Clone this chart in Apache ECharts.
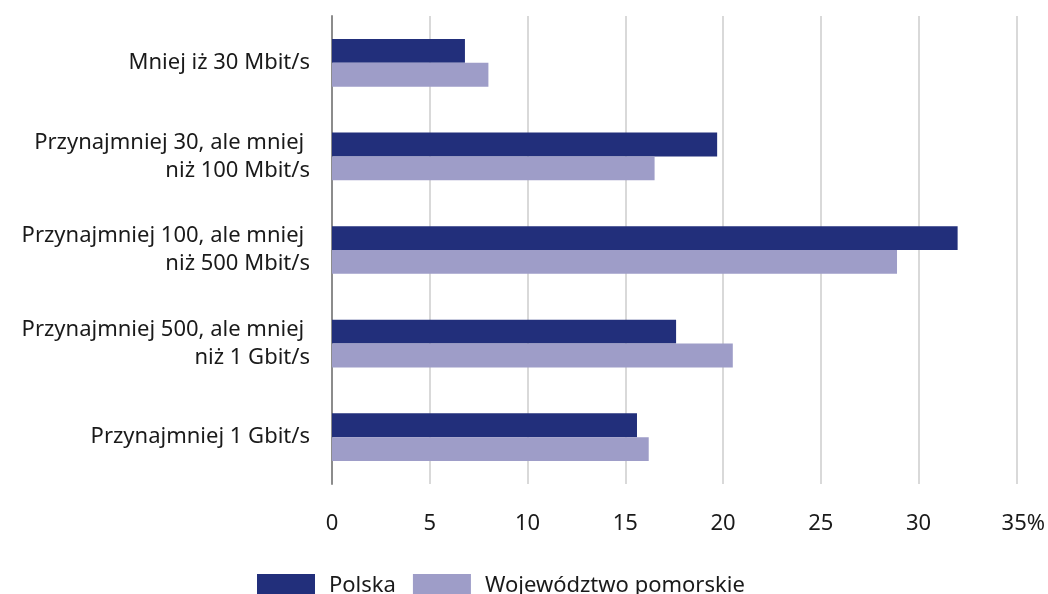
<!DOCTYPE html>
<html><head><meta charset="utf-8">
<script src="https://cdn.jsdelivr.net/npm/echarts@6/dist/echarts.min.js"></script>
<style>html,body{margin:0;padding:0;background:#fff}#c{width:1048px;height:594px}</style>
</head><body><div id="c"></div>
<script>
var categories = ["Mniej iż 30 Mbit/s", "Przynajmniej 30, ale mniej \nniż 100 Mbit/s", "Przynajmniej 100, ale mniej \nniż 500 Mbit/s", "Przynajmniej 500, ale mniej \nniż 1 Gbit/s", "Przynajmniej 1 Gbit/s"];
var polska = [6.8, 19.7, 32.0, 17.6, 15.6];
var pomorskie = [8.0, 16.5, 28.9, 20.5, 16.2];
var seriesNames = ["Polska", "Województwo pomorskie"];
var FONT = "Noto Sans";
var chart = echarts.init(document.getElementById('c'));
chart.setOption({
  animation: false,
  textStyle: {fontFamily: FONT},
  grid: {left: 332, right: 31, top: 16, bottom: 110, containLabel: false},
  legend: {
    left: 252, top: 569, itemWidth: 58, itemHeight: 24, itemGap: 17,
    icon: 'rect',
    textStyle: {fontSize: 22, color: '#1a1a1a', fontFamily: FONT, padding: [0,0,3,9]},
    data: seriesNames
  },
  xAxis: {
    type: 'value', min: 0, max: 35, interval: 5,
    axisLine: {show: false}, axisTick: {show: false},
    splitLine: {lineStyle: {color: '#d9d9d9', width: 2}},
    axisLabel: {
      fontSize: 22, color: '#1a1a1a', margin: 29, fontFamily: FONT,
      formatter: function (v) { return v === 35 ? '{p|35%}' : String(v); },
      rich: {p: {fontSize: 22, color: '#1a1a1a', fontFamily: FONT, padding: [0,0,0,14]}}
    }
  },
  yAxis: {
    type: 'category', inverse: true, data: categories,
    axisLine: {show: true, lineStyle: {color: '#8c8c8c', width: 2}},
    axisTick: {show: false},
    axisLabel: {fontSize: 22, color: '#1a1a1a', margin: 22, lineHeight: 28, align: 'right', fontFamily: FONT}
  },
  series: [
    {name: seriesNames[0], type: 'bar', data: polska, barGap: '0%', barCategoryGap: '49%',
     itemStyle: {color: '#222f7b'}},
    {name: seriesNames[1], type: 'bar', data: pomorskie,
     itemStyle: {color: '#9e9dc8'}}
  ]
});
</script></body></html>
